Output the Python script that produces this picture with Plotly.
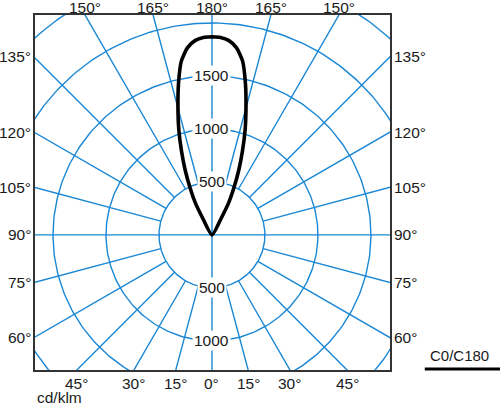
import numpy as np
import plotly.graph_objects as go

# Luminous intensity curve, C0/C180 plane (symmetric), cd/klm vs gamma
gamma = [150, 151, 152.5, 155, 157.5, 160, 162.5, 165, 167.5, 170, 172.5, 175, 177.5, 180]
intensity = [0, 180, 340, 490, 660, 840, 1040, 1240, 1460, 1665, 1780, 1840, 1865, 1870]

# Grid definition
ring_values = [500, 1000, 1500, 2000, 2500]
ray_angles = list(range(0, 360, 15))
labels_up = [500, 1000, 1500]
labels_down = [500, 1000]
side_angles = [60, 75, 90, 105, 120, 135]
top_angles = [150, 165, 180]
bottom_angles = [0, 15, 30, 45]

X_RANGE = [-1670, 1680]
Y_RANGE = [-1275, 2075]

GRID = "#1a87d4"
FONT = "Liberation Sans, Arial, sans-serif"
TXT = "#1a1a1a"


def polar_xy(g, r):
    g = np.radians(np.asarray(g, dtype=float))
    r = np.asarray(r, dtype=float)
    return r * np.sin(g), -r * np.cos(g)


# grid circles
cx, cy = [], []
t = np.linspace(0, 360, 361)
for rv in ring_values:
    x, y = polar_xy(t, np.full_like(t, rv))
    cx += list(x) + [None]
    cy += list(y) + [None]

# radial lines (main axes pass through the centre)
rx, ry = [], []
for a in ray_angles:
    r0 = 0 if a % 90 == 0 else ring_values[0]
    x, y = polar_xy([a, a], [r0, 4000])
    rx += list(x) + [None]
    ry += list(y) + [None]

# curve: right half upward, then left half back down
g_arr = np.array(gamma, dtype=float)
i_arr = np.array(intensity, dtype=float)
xr, yr = polar_xy(g_arr, i_arr)
xl, yl = polar_xy(g_arr[::-1], i_arr[::-1])
curve_x = list(xr) + list(-xl)
curve_y = list(yr) + list(yl)

fig = go.Figure()
fig.add_trace(go.Scatter(x=cx, y=cy, mode="lines", line=dict(color=GRID, width=1.4),
                         hoverinfo="skip", showlegend=False))
fig.add_trace(go.Scatter(x=rx, y=ry, mode="lines", line=dict(color=GRID, width=1.4),
                         hoverinfo="skip", showlegend=False))
fig.add_trace(go.Scatter(x=curve_x, y=curve_y, mode="lines",
                         line=dict(color="black", width=3.6, shape="spline", smoothing=0.6),
                         hoverinfo="skip", showlegend=False))

ann = []
lab_font = dict(family=FONT, size=15.5, color=TXT)

# value labels on the vertical axis
for v in labels_up:
    ann.append(dict(x=0, y=v, text=str(v), showarrow=False, font=lab_font,
                    bgcolor="white", borderpad=1))
for v in labels_down:
    ann.append(dict(x=0, y=-v, text=str(v), showarrow=False, font=lab_font,
                    bgcolor="white", borderpad=1))

# angle labels on the left / right frame
for a in side_angles:
    yv = -X_RANGE[1] * np.cos(np.radians(a)) / np.sin(np.radians(a))
    ann.append(dict(x=0, xref="paper", y=yv, text=f"{a}°", showarrow=False,
                    xanchor="right", xshift=-2, font=lab_font))
    ann.append(dict(x=1, xref="paper", y=yv, text=f"{a}°", showarrow=False,
                    xanchor="left", xshift=2, font=lab_font))

# top labels
for a in top_angles:
    xv = Y_RANGE[1] * np.tan(np.radians(180 - a))
    for s in ([1] if a == 180 else [-1, 1]):
        ann.append(dict(x=s * xv, y=1, yref="paper", text=f"{a}°", showarrow=False,
                        yanchor="bottom", yshift=-3, font=lab_font))

# bottom labels
for a in bottom_angles:
    xv = -Y_RANGE[0] * np.tan(np.radians(a))
    for s in ([1] if a == 0 else [-1, 1]):
        ann.append(dict(x=s * xv, y=0, yref="paper", text=f"{a}°", showarrow=False,
                        yanchor="top", yshift=-3, font=lab_font))

ann.append(dict(x=0, xref="paper", y=0, yref="paper", text="cd/klm", showarrow=False,
                xanchor="left", yanchor="top", xshift=0, yshift=-17, font=lab_font))
ann.append(dict(x=1.108, xref="paper", y=0.01, yref="paper", text="C0/C180", showarrow=False,
                xanchor="left", yanchor="bottom", font=dict(family=FONT, size=15, color=TXT)))

fig.add_shape(type="line", xref="paper", yref="paper", x0=1.098, x1=1.31, y0=0.003, y1=0.003,
              line=dict(color="black", width=3))

fig.update_layout(
    width=500, height=406,
    margin=dict(l=35, r=110, t=15, b=36),
    paper_bgcolor="white", plot_bgcolor="white",
    annotations=ann,
    xaxis=dict(range=X_RANGE, showgrid=False, zeroline=False, showticklabels=False,
               ticks="", showline=True, mirror=True, linecolor="#333333", linewidth=1.5),
    yaxis=dict(range=Y_RANGE, showgrid=False, zeroline=False, showticklabels=False,
               ticks="", showline=True, mirror=True, linecolor="#333333", linewidth=1.5),
)

# drop the default page margin so the figure sits at the window's top-left corner
fig.write_html("out.html", config={"displayModeBar": False},
               post_script="document.body.style.margin='0';")
